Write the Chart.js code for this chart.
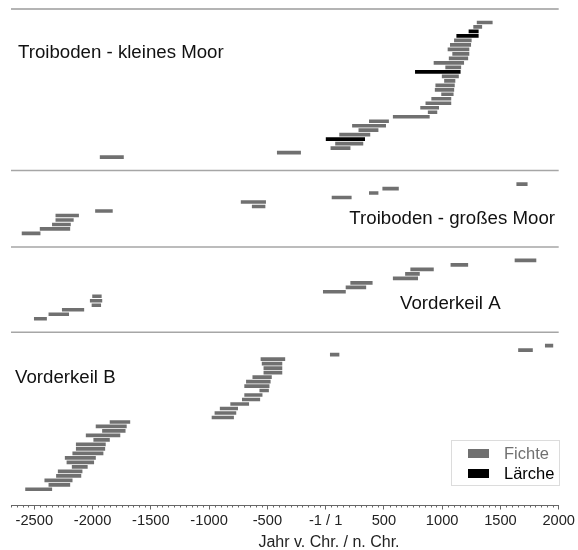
<!DOCTYPE html>
<html><head><meta charset="utf-8">
<script src="https://cdn.jsdelivr.net/npm/chart.js@4/dist/chart.umd.min.js"></script>
<style>html,body{margin:0;padding:0;background:#fff}#wrap{width:578px;height:550px}</style>
</head><body><div id="wrap"><canvas id="c" width="578" height="550"></canvas></div>
<script>
// ---------- data ----------
const xTickValues = [-2500, -2000, -1500, -1000, -500, 0, 500, 1000, 1500, 2000];
const minorTickStep = 50;
const panelNames = ['Troiboden - kleines Moor', 'Troiboden - großes Moor', 'Vorderkeil A', 'Vorderkeil B'];
const panelFirstRow = [3, 39, 56, 75];
const separatorRows = [0, 36, 53, 72];
const speciesNames = ['Fichte', 'Lärche'];

// Troiboden - kleines Moor (species: 0 = Fichte, 1 = Lärche)
const kleinesMoorStart = [1300, 1270, 1230, 1125, 1105, 1070, 1050, 1090, 1060, 930, 1030, 770, 1000, 1020, 945, 940, 995, 910, 860, 815, 880, 580, 375, 230, 285, 120, 0, 85, 45, -415, -1935];
const kleinesMoorEnd   = [1430, 1340, 1310, 1310, 1250, 1245, 1230, 1230, 1220, 1185, 1160, 1155, 1140, 1110, 1105, 1100, 1095, 1075, 1075, 970, 955, 890, 540, 515, 450, 380, 335, 320, 210, -215, -1735];
const kleinesMoorSpecies = [0, 0, 1, 1, 0, 0, 0, 0, 0, 0, 0, 1, 0, 0, 0, 0, 0, 0, 0, 0, 0, 0, 0, 0, 0, 0, 1, 0, 0, 0, 0];

// Troiboden - großes Moor
const grossesMoorStart = [1640, 490, 375, 55, -725, -630, -1975, -2315, -2315, -2345, -2450, -2605];
const grossesMoorEnd   = [1730, 625, 450, 220, -515, -520, -1830, -2120, -2165, -2190, -2195, -2450];
const grossesMoorSpecies = [0, 0, 0, 0, 0, 0, 0, 0, 0, 0, 0, 0];

// Vorderkeil A
const vorderkeilAStart = [1625, 1075, 730, 685, 580, 215, 175, -20, -2000, -2020, -2005, -2260, -2375, -2500];
const vorderkeilAEnd   = [1805, 1220, 925, 805, 790, 400, 345, 170, -1925, -1920, -1930, -2075, -2205, -2395];
const vorderkeilASpecies = [0, 0, 0, 0, 0, 0, 0, 0, 0, 0, 0, 0, 0, 0];

// Vorderkeil B
const vorderkeilBStart = [1885, 1655, 40, -555, -545, -530, -530, -625, -680, -695, -565, -695, -715, -815, -905, -950, -975, -1850, -1970, -1915, -2055, -1990, -2140, -2140, -2170, -2235, -2220, -2175, -2295, -2310, -2410, -2375, -2575];
const vorderkeilBEnd   = [1950, 1775, 115, -350, -375, -375, -375, -465, -475, -485, -490, -545, -565, -660, -755, -770, -790, -1680, -1710, -1720, -1765, -1855, -1890, -1895, -1910, -1975, -1990, -2045, -2090, -2100, -2175, -2195, -2350];
const vorderkeilBSpecies = [0, 0, 0, 0, 0, 0, 0, 0, 0, 0, 0, 0, 0, 0, 0, 0, 0, 0, 0, 0, 0, 0, 0, 0, 0, 0, 0, 0, 0, 0, 0, 0, 0];

// ---------- build datasets ----------
const panelStarts = [kleinesMoorStart, grossesMoorStart, vorderkeilAStart, vorderkeilBStart];
const panelEnds = [kleinesMoorEnd, grossesMoorEnd, vorderkeilAEnd, vorderkeilBEnd];
const panelSpecies = [kleinesMoorSpecies, grossesMoorSpecies, vorderkeilASpecies, vorderkeilBSpecies];
const speciesColors = ['#707070', '#000000'];

const seriesData = speciesNames.map(() => []);
panelStarts.forEach((starts, p) => {
  starts.forEach((s, i) => {
    seriesData[panelSpecies[p][i]].push({ x: [s, panelEnds[p][i]], y: panelFirstRow[p] + i });
  });
});

const FONT = 'Liberation Sans, Arial, Helvetica, sans-serif';

const overlay = {
  id: 'overlay',
  afterDraw(chart) {
    const { ctx, chartArea, scales: { x, y } } = chart;
    ctx.save();
    // panel separators
    separatorRows.forEach((r, i) => {
      const py = y.getPixelForValue(r);
      ctx.strokeStyle = i === 0 ? '#6b6b6b' : '#a6a6a6';
      ctx.lineWidth = i === 0 ? 1.2 : 1.5;
      ctx.beginPath(); ctx.moveTo(chartArea.left, py); ctx.lineTo(chartArea.right, py); ctx.stroke();
    });
    // minor ticks
    ctx.strokeStyle = '#666'; ctx.lineWidth = 1;
    for (let v = x.min; v <= x.max; v += minorTickStep) {
      if (xTickValues.includes(v)) continue;
      const px = Math.round(x.getPixelForValue(v)) + 0.5;
      ctx.beginPath(); ctx.moveTo(px, chartArea.bottom); ctx.lineTo(px, chartArea.bottom + 2.5); ctx.stroke();
    }
    // panel titles
    ctx.fillStyle = '#111';
    ctx.font = '18.67px ' + FONT;
    ctx.textBaseline = 'alphabetic';
    const titlePos = [
      { x: 18, y: 58, align: 'left' },
      { x: 555, y: 223.5, align: 'right' },
      { x: 400, y: 309, align: 'left' },
      { x: 15, y: 383, align: 'left' }
    ];
    panelNames.forEach((t, i) => {
      ctx.textAlign = titlePos[i].align;
      ctx.fillText(t, titlePos[i].x, titlePos[i].y);
    });
    // axis title
    ctx.textAlign = 'center';
    ctx.font = '16px ' + FONT;
    ctx.fillStyle = '#222';
    ctx.fillText('Jahr v. Chr. / n. Chr.', 329, 546.5);
    // legend
    const bx = 451.5, by = 440.5, bw = 108, bh = 45;
    ctx.fillStyle = '#fff'; ctx.fillRect(bx, by, bw, bh);
    ctx.strokeStyle = '#dcdcdc'; ctx.lineWidth = 1; ctx.strokeRect(bx, by, bw, bh);
    ctx.font = '16.5px ' + FONT; ctx.textAlign = 'left';
    chart.data.datasets.forEach((ds, i) => {
      const sy = 449 + i * 20;
      ctx.fillStyle = ds.backgroundColor;
      ctx.fillRect(468, sy, 21, 9);
      ctx.fillText(ds.label, 504, sy + 9.5);
    });
    ctx.restore();
  }
};

new Chart(document.getElementById('c'), {
  type: 'bar',
  data: {
    datasets: speciesNames.map((n, i) => ({
      label: n,
      data: seriesData[i],
      backgroundColor: speciesColors[i],
      borderWidth: 0,
      barThickness: 3,
      grouped: false
    }))
  },
  options: {
    indexAxis: 'y',
    responsive: false,
    animation: false,
    layout: { padding: { left: 11, right: 19, top: 9, bottom: 0 } },
    scales: {
      x: {
        type: 'linear', position: 'bottom', min: -2700, max: 2000,
        afterBuildTicks: s => { s.ticks = xTickValues.map(v => ({ value: v })); },
        afterFit: s => { s.height = 45; },
        grid: { display: true, drawOnChartArea: false, drawTicks: true, tickLength: 4.5, color: '#666', tickWidth: 1 },
        border: { display: true, color: '#666', width: 1 },
        ticks: {
          font: { family: FONT, size: 14.67 }, color: '#222', padding: 3,
          maxRotation: 0, autoSkip: false,
          callback: v => v === 0 ? '-1 / 1' : String(v)
        }
      },
      y: { type: 'linear', reverse: true, min: 0, max: 110.5, offset: false, display: false }
    },
    plugins: { legend: { display: false }, tooltip: { enabled: false } }
  },
  plugins: [overlay]
});
</script>
</body></html>
